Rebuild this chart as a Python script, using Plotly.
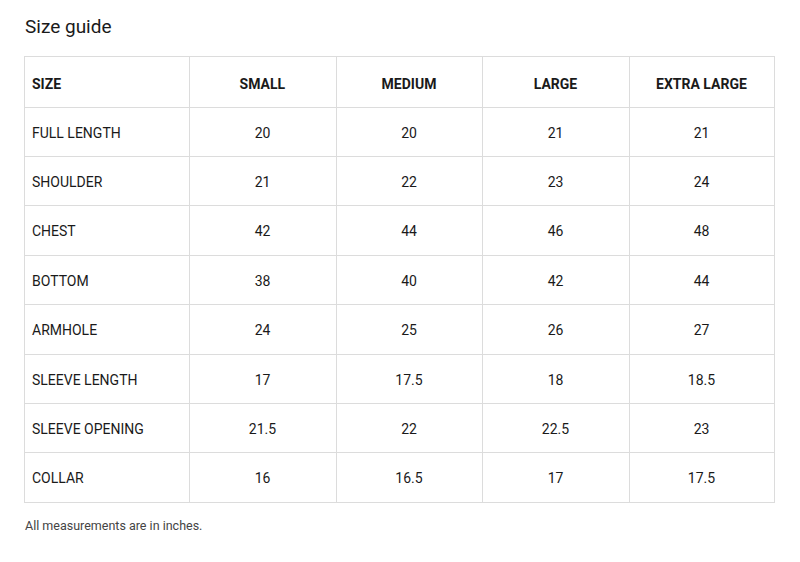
import plotly.graph_objects as go

header = ["SIZE", "SMALL", "MEDIUM", "LARGE", "EXTRA LARGE"]
measures = ["FULL LENGTH", "SHOULDER", "CHEST", "BOTTOM", "ARMHOLE",
            "SLEEVE LENGTH", "SLEEVE OPENING", "COLLAR"]
small = ["20", "21", "42", "38", "24", "17", "21.5", "16"]
medium = ["20", "22", "44", "40", "25", "17.5", "22", "16.5"]
large = ["21", "23", "46", "42", "26", "18", "22.5", "17"]
xlarge = ["21", "24", "48", "44", "27", "18.5", "23", "17.5"]

W, H = 800, 562
OFF = 9  # page body margin offset
line = "#dcdcdc"
ink = "#1a1a1a"
font = dict(family="Roboto, Arial, sans-serif", size=14, color=ink)
align = ["left", "center", "center", "center", "center"]
widths = [165, 147, 146, 147, 145]


def dom(top, bottom):
    return dict(x=[(25 - OFF) / W, (775 - OFF) / W],
                y=[1 - (bottom - OFF) / H, 1 - (top - OFF) / H])


# grid only
fig = go.Figure(go.Table(
    domain=dom(57, 510), columnwidth=widths,
    header=dict(values=[""] * 5, height=51, fill_color="white", line_color=line),
    cells=dict(values=[[""] * 8] * 5, height=49.4, fill_color="white", line_color=line),
))
# text layer, shifted down to centre text vertically
shift = 12
fig.add_trace(go.Table(
    domain=dom(57 + shift, 510 + shift), columnwidth=widths,
    header=dict(values=["<b>%s</b>" % h for h in header], align=align, height=51,
                font=font, fill_color="rgba(0,0,0,0)", line_color="rgba(0,0,0,0)"),
    cells=dict(values=[measures, small, medium, large, xlarge], align=align,
               height=49.4, font=font, fill_color="rgba(0,0,0,0)",
               line_color="rgba(0,0,0,0)"),
))

fig.add_annotation(text="Size guide", x=(24 - OFF) / W, y=1 - (27 - OFF) / H,
                   xref="paper", yref="paper", xanchor="left", yanchor="middle",
                   showarrow=False,
                   font=dict(family="Roboto, Arial, sans-serif", size=19, color=ink))
fig.add_annotation(text="All measurements are in inches.", x=(24 - OFF) / W,
                   y=1 - (526 - OFF) / H, xref="paper", yref="paper",
                   xanchor="left", yanchor="middle", showarrow=False,
                   font=dict(family="Roboto, Arial, sans-serif", size=12.5, color="#444"))

fig.update_layout(width=W, height=H, margin=dict(l=0, r=0, t=0, b=0),
                  paper_bgcolor="white", plot_bgcolor="white")
fig.write_html("out.html")
